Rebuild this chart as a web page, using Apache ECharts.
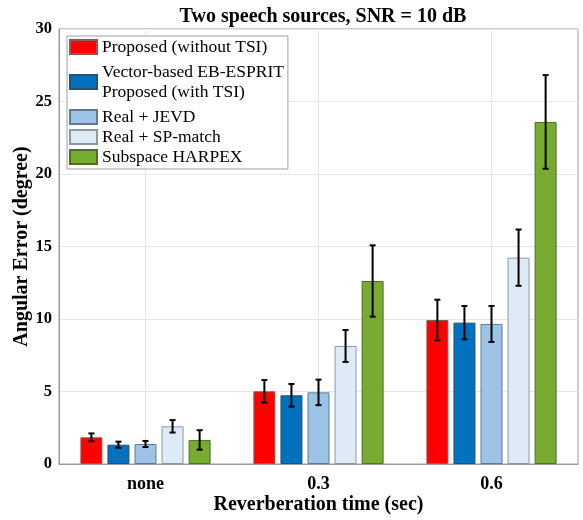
<!DOCTYPE html>
<html>
<head>
<meta charset="utf-8">
<script src="https://cdn.jsdelivr.net/npm/echarts@6/dist/echarts.min.js"></script>
<style>
  html, body { margin: 0; padding: 0; background: #fff; }
  #chart { width: 583px; height: 520px; }
</style>
</head>
<body>
<div id="chart"></div>
<script>
// Reverberation conditions on the x axis
const categories = ['none', '0.3', '0.6'];

// Mean angular error (degree) per method
const proposedNoTSI = [1.84, 5.01, 9.93];
const vectorEB = [1.33, 4.74, 9.75];
const realJEVD = [1.38, 4.94, 9.66];
const realSPMatch = [2.60, 8.14, 14.23];
const harpex = [1.66, 12.62, 23.59];

// Half-length of each error bar (degree)
const proposedNoTSIErr = [0.27, 0.78, 1.40];
const vectorEBErr = [0.21, 0.78, 1.15];
const realJEVDErr = [0.21, 0.88, 1.24];
const realSPMatchErr = [0.43, 1.10, 1.94];
const harpexErr = [0.67, 2.46, 3.23];

const seriesNames = [
  'Proposed (without TSI)',
  'Vector-based EB-ESPRIT\nProposed (with TSI)',
  'Real + JEVD',
  'Real + SP-match',
  'Subspace HARPEX'
];
const yTicks = [0, 5, 10, 15, 20, 25, 30];

const means = [proposedNoTSI, vectorEB, realJEVD, realSPMatch, harpex];
const errs = [proposedNoTSIErr, vectorEBErr, realJEVDErr, realSPMatchErr, harpexErr];
const fills = ['#ff0000', '#0072bd', '#9dc3e6', '#deebf7', '#77ac30'];
const edges = ['#8a5a5a', '#2f4f6a', '#5f7b93', '#8d9aa6', '#4f6e2a'];

const FONT = "'Liberation Serif', 'Times New Roman', serif";
const BAR_W = 22;
const BAR_GAP = 0.23;
const PITCH = BAR_W * (1 + BAR_GAP);

const barSeries = means.map((vals, i) => ({
  name: seriesNames[i],
  type: 'bar',
  data: vals,
  barWidth: BAR_W,
  barGap: (BAR_GAP * 100) + '%',
  itemStyle: { color: fills[i], borderColor: edges[i], borderWidth: 1 },
  emphasis: { disabled: true },
  z: 2
}));

// Error bars drawn centred on each bar of the group
const errSeries = means.map((vals, i) => ({
  type: 'custom',
  silent: true,
  z: 5,
  data: vals.map((m, k) => [k, m, errs[i][k]]),
  encode: { x: 0, y: 1 },
  renderItem: (params, api) => {
    const cat = api.value(0);
    const m = api.value(1);
    const e = api.value(2);
    const x = api.coord([cat, m])[0] + (i - 2) * PITCH;
    const yTop = api.coord([cat, m + e])[1];
    const yBot = api.coord([cat, m - e])[1];
    const cap = 3;
    const style = { stroke: '#000', lineWidth: 2 };
    return {
      type: 'group',
      children: [
        { type: 'line', shape: { x1: x, y1: yTop, x2: x, y2: yBot }, style },
        { type: 'line', shape: { x1: x - cap, y1: yTop, x2: x + cap, y2: yTop }, style },
        { type: 'line', shape: { x1: x - cap, y1: yBot, x2: x + cap, y2: yBot }, style }
      ]
    };
  }
}));

const chart = echarts.init(document.getElementById('chart'), null, { renderer: 'canvas' });
chart.setOption({
  animation: false,
  backgroundColor: '#fff',
  title: {
    text: 'Two speech sources, SNR = 10 dB',
    left: 318,
    textAlign: 'center',
    top: 2,
    textStyle: { fontFamily: FONT, fontWeight: 'bold', fontSize: 20, color: '#000' }
  },
  grid: {
    left: 59, right: 5, top: 29, bottom: 56,
    outerBoundsMode: 'none',
    containLabel: false,
    show: true, borderColor: '#9a9a9a', borderWidth: 1, backgroundColor: 'transparent'
  },
  legend: {
    orient: 'vertical',
    left: 67,
    top: 36,
    padding: [1, 4, 2, 2],
    itemGap: 0,
    itemWidth: 27,
    itemHeight: 14,
    icon: 'rect',
    backgroundColor: '#fff',
    borderColor: '#a0a0a0',
    borderWidth: 1,
    selectedMode: false,
    textStyle: { fontFamily: FONT, fontSize: 17.5, color: '#000', lineHeight: 20 },
    data: seriesNames.map((n, i) => i === 1
      ? { name: n, textStyle: { padding: [5, 0, 5, 0] } }
      : { name: n })
  },
  xAxis: {
    type: 'category',
    data: categories,
    name: 'Reverberation time (sec)',
    nameLocation: 'middle',
    nameGap: 31,
    nameMoveOverlap: false,
    nameTextStyle: { fontFamily: FONT, fontWeight: 'bold', fontSize: 20, color: '#000' },
    axisLine: { lineStyle: { color: '#9a9a9a' } },
    axisTick: { show: false },
    axisLabel: { fontFamily: FONT, fontWeight: 'bold', fontSize: 18, color: '#000', margin: 11 },
    splitLine: { show: true, alignWithLabel: true, lineStyle: { color: '#e6e6e6', width: 1 } }
  },
  yAxis: {
    type: 'value',
    min: 0,
    max: 30,
    interval: 5,
    name: 'Angular Error (degree)',
    nameLocation: 'middle',
    nameGap: 27,
    nameMoveOverlap: false,
    nameTextStyle: { fontFamily: FONT, fontWeight: 'bold', fontSize: 20, color: '#000' },
    axisLine: { show: true, lineStyle: { color: '#9a9a9a' } },
    axisTick: { show: false },
    axisLabel: {
      fontFamily: FONT, fontWeight: 'bold', fontSize: 16.5, color: '#000', margin: 7,
      formatter: v => yTicks.includes(v) ? String(v) : ''
    },
    splitLine: { show: true, lineStyle: { color: '#e6e6e6', width: 1 } }
  },
  series: [...barSeries, ...errSeries]
});
</script>
</body>
</html>
